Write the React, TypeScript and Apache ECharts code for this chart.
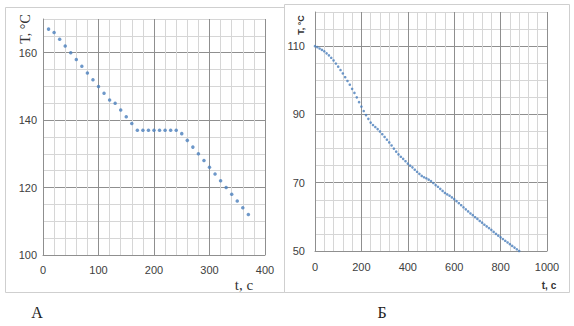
import React, { useEffect, useRef } from "react";
import * as echarts from "echarts";

// Chart A: time (s) and temperature (°C)
const timeA = [10, 20, 30, 40, 50, 60, 70, 80, 90, 100, 110, 120, 130, 140, 150, 160, 170, 180, 190, 200, 210, 220, 230, 240, 250, 260, 270, 280, 290, 300, 310, 320, 330, 340, 350, 360, 370];
const tempA = [167, 166, 164, 162, 160, 158, 156, 154, 152, 150, 148, 146, 145, 143, 141, 139, 137, 137, 137, 137, 137, 137, 137, 137, 136, 134, 132, 130, 128, 126, 124, 122, 120, 118, 116, 114, 112];

// Chart Б: time (s) and temperature (°C)
const timeB = [0, 10, 20, 30, 40, 50, 60, 70, 80, 90, 100, 110, 120, 130, 140, 150, 160, 170, 180, 190, 200, 210, 220, 230, 240, 250, 260, 270, 280, 290, 300, 310, 320, 330, 340, 350, 360, 370, 380, 390, 400, 410, 420, 430, 440, 450, 460, 470, 480, 490, 500, 510, 520, 530, 540, 550, 560, 570, 580, 590, 600, 610, 620, 630, 640, 650, 660, 670, 680, 690, 700, 710, 720, 730, 740, 750, 760, 770, 780, 790, 800, 810, 820, 830, 840, 850, 860, 870, 880];
const tempB = [110.0, 109.7, 109.3, 108.9, 108.5, 107.9, 107.3, 106.6, 105.8, 104.9, 104.0, 103.0, 102.0, 100.9, 99.8, 98.7, 97.5, 96.3, 95.0, 93.6, 92.3, 91.0, 89.8, 88.7, 87.6, 86.9, 86.3, 85.7, 85.0, 84.2, 83.4, 82.6, 81.8, 80.9, 80.0, 79.1, 78.3, 77.6, 77.0, 76.3, 75.6, 75.0, 74.5, 73.8, 73.2, 72.6, 72.0, 71.6, 71.3, 70.9, 70.5, 69.9, 69.3, 68.8, 68.2, 67.6, 67.0, 66.6, 66.2, 65.7, 65.2, 64.6, 64.0, 63.4, 62.8, 62.2, 61.6, 61.0, 60.5, 59.9, 59.4, 58.8, 58.3, 57.7, 57.2, 56.7, 56.2, 55.6, 55.0, 54.5, 54.0, 53.5, 53.0, 52.5, 52.0, 51.5, 51.0, 50.5, 50.0];

const MAJOR = "#8f8f8f";
const MINOR = "#d6d6d6";
const LABEL = { color: "#404040", fontFamily: "Liberation Sans, Arial, sans-serif", fontSize: 11 };
const DOT = "#4a7ebb";

function minorAxis(gridIndex: number, min: number, max: number, interval: number, isY: boolean) {
  return {
    type: "value", gridIndex, min, max, interval,
    position: isY ? "left" : "bottom", offset: 0,
    axisLine: { show: false }, axisTick: { show: false }, axisLabel: { show: false },
    splitLine: { show: true, lineStyle: { color: MINOR, width: 1 } },
  };
}
function majorAxis(gridIndex: number, min: number, max: number, interval: number, margin: number, isY: boolean) {
  return {
    type: "value", gridIndex, min, max, interval,
    position: isY ? "left" : "bottom", offset: 0,
    axisLine: { show: true, onZero: false, lineStyle: { color: MAJOR, width: 1 } },
    axisTick: { show: false },
    axisLabel: { ...LABEL, margin, showMaxLabel: !isY, formatter: (v: number) => String(v) },
    splitLine: { show: true, showMaxLine: !isY, lineStyle: { color: MAJOR, width: 1 } },
  };
}

export default function App() {
  const ref = useRef<HTMLDivElement>(null);
  useEffect(() => {
    if (!ref.current) return;
    const chart = echarts.init(ref.current, undefined, { renderer: "svg" });
    chart.setOption({
      animation: false,
      backgroundColor: "#ffffff",
      grid: [
        { left: 43, top: 19, width: 222, height: 236 },
        { left: 315, top: 12, width: 232, height: 239 },
      ],
      xAxis: [
        minorAxis(0, 0, 400, 20, false),
        majorAxis(0, 0, 400, 100, 9, false),
        minorAxis(1, 0, 1000, 40, false),
        majorAxis(1, 0, 1000, 200, 10, false),
      ],
      yAxis: [
        minorAxis(0, 100, 170, 5, true),
        majorAxis(0, 100, 170, 20, 6, true),
        minorAxis(1, 50, 120, 5, true),
        majorAxis(1, 50, 120, 20, 10, true),
      ],
      series: [
        {
          type: "scatter", xAxisIndex: 1, yAxisIndex: 1,
          data: timeA.map((t, i) => [t, tempA[i]]),
          symbol: "circle", symbolSize: 3.5, itemStyle: { color: DOT },
        },
        {
          type: "scatter", xAxisIndex: 3, yAxisIndex: 3,
          data: timeB.map((t, i) => [t, tempB[i]]),
          symbol: "circle", symbolSize: 2.6, itemStyle: { color: DOT },
        },
      ],
      graphic: [
        { type: "rect", shape: { x: 5.5, y: 7.5, width: 279, height: 285 }, style: { fill: "none", stroke: "#cfcfcf", lineWidth: 1 }, z: 0 },
        { type: "rect", shape: { x: 284.5, y: 4.5, width: 285, height: 288 }, style: { fill: "none", stroke: "#cfcfcf", lineWidth: 1 }, z: 0 },
        { type: "text", x: 25, y: 29, rotation: Math.PI / 2, style: { text: "T, °C", fill: "#333", font: "14px 'Liberation Serif', 'Times New Roman', serif", align: "center", verticalAlign: "middle" } },
        { type: "text", x: 244, y: 285, style: { text: "t, c", fill: "#333", font: "15px 'Liberation Serif', 'Times New Roman', serif", align: "center", verticalAlign: "middle" } },
        { type: "text", x: 301, y: 25, rotation: Math.PI / 2, style: { text: "T, °C", fill: "#333", font: "bold 9px 'Liberation Sans', Arial, sans-serif", align: "center", verticalAlign: "middle" } },
        { type: "text", x: 549, y: 285, style: { text: "t, c", fill: "#333", font: "bold 10px 'Liberation Sans', Arial, sans-serif", align: "center", verticalAlign: "middle" } },
        { type: "text", x: 37, y: 312, style: { text: "А", fill: "#222", font: "16px 'Liberation Serif', 'Times New Roman', serif", align: "center", verticalAlign: "middle" } },
        { type: "text", x: 382, y: 312, style: { text: "Б", fill: "#222", font: "16px 'Liberation Serif', 'Times New Roman', serif", align: "center", verticalAlign: "middle" } },
      ],
    });
    return () => chart.dispose();
  }, []);
  return (
    <div
      ref={ref}
      style={{ position: "absolute", left: 0, top: 0, width: 574, height: 326, background: "#fff" }}
    />
  );
}
